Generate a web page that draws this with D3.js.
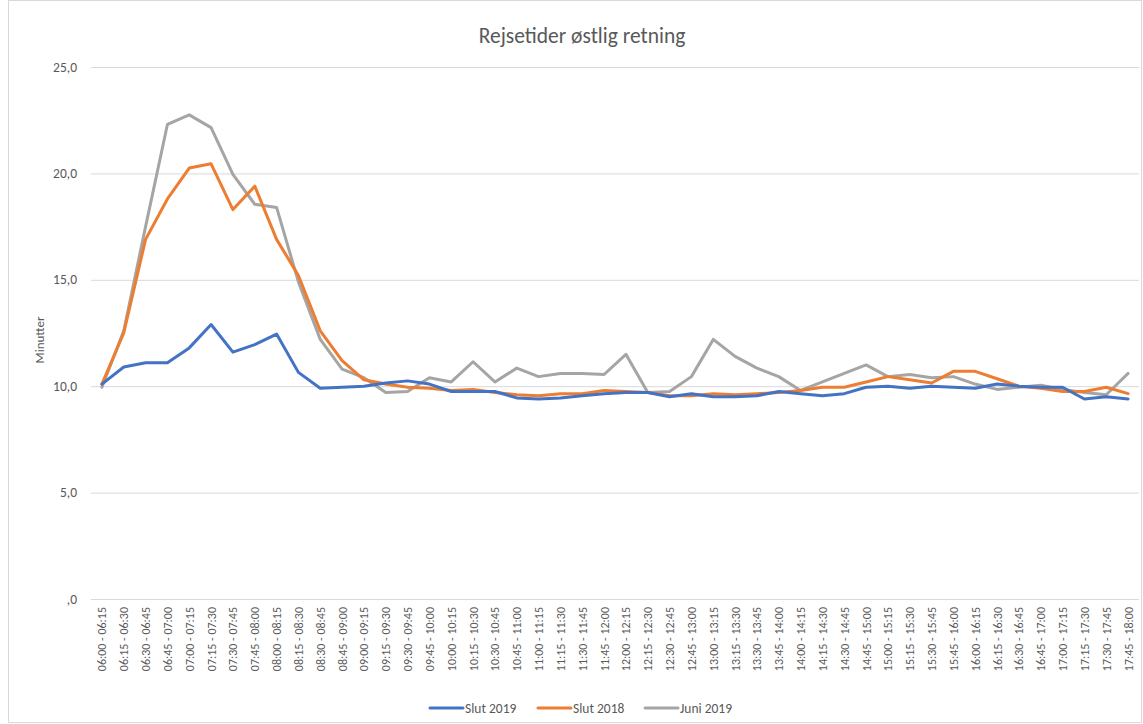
<!DOCTYPE html>
<html>
<head>
<meta charset="utf-8">
<script src="https://cdn.jsdelivr.net/npm/d3@7"></script>
<style>
  body { margin: 0; background: #fff; }
  text { font-family: Calibri, Carlito, Lato, sans-serif; fill: #595959; }
</style>
</head>
<body>
<svg id="chart" width="1143" height="724"></svg>
<script>
const categories = ["06:00 - 06:15","06:15 - 06:30","06:30 - 06:45","06:45 - 07:00","07:00 - 07:15","07:15 - 07:30",
  "07:30 - 07:45","07:45 - 08:00","08:00 - 08:15","08:15 - 08:30","08:30 - 08:45","08:45 - 09:00",
  "09:00 - 09:15","09:15 - 09:30","09:30 - 09:45","09:45 - 10:00","10:00 - 10:15","10:15 - 10:30",
  "10:30 - 10:45","10:45 - 11:00","11:00 - 11:15","11:15 - 11:30","11:30 - 11:45","11:45 - 12:00",
  "12:00 - 12:15","12:15 - 12:30","12:30 - 12:45","12:45 - 13:00","13:00 - 13:15","13:15 - 13:30",
  "13:30 - 13:45","13:45 - 14:00","14:00 - 14:15","14:15 - 14:30","14:30 - 14:45","14:45 - 15:00",
  "15:00 - 15:15","15:15 - 15:30","15:30 - 15:45","15:45 - 16:00","16:00 - 16:15","16:15 - 16:30",
  "16:30 - 16:45","16:45 - 17:00","17:00 - 17:15","17:15 - 17:30","17:30 - 17:45","17:45 - 18:00"];

const slut2019 = [10.1, 10.9, 11.1, 11.1, 11.8, 12.9, 11.6, 11.95, 12.45, 10.65, 9.9, 9.95,
  10.0, 10.15, 10.25, 10.1, 9.75, 9.75, 9.75, 9.45, 9.4, 9.45, 9.55, 9.65,
  9.7, 9.7, 9.5, 9.65, 9.5, 9.5, 9.55, 9.75, 9.65, 9.55, 9.65, 9.95,
  10.0, 9.9, 10.0, 9.95, 9.9, 10.1, 10.0, 9.95, 9.95, 9.4, 9.5, 9.4];

const slut2018 = [10.1, 12.5, 16.9, 18.8, 20.25, 20.45, 18.3, 19.4, 16.9, 15.2, 12.6, 11.2,
  10.3, 10.1, 9.95, 9.9, 9.8, 9.85, 9.7, 9.6, 9.55, 9.65, 9.65, 9.8,
  9.75, 9.7, 9.55, 9.55, 9.65, 9.6, 9.65, 9.7, 9.8, 9.95, 9.95, 10.2,
  10.45, 10.3, 10.15, 10.7, 10.7, 10.35, 10.0, 9.9, 9.75, 9.75, 9.95, 9.65];

const juni2019 = [9.95, 12.6, 17.5, 22.3, 22.75, 22.15, 19.95, 18.55, 18.4, 14.9, 12.2, 10.8,
  10.4, 9.7, 9.75, 10.4, 10.2, 11.15, 10.2, 10.85, 10.45, 10.6, 10.6, 10.55,
  11.5, 9.7, 9.75, 10.45, 12.2, 11.4, 10.85, 10.45, 9.8, 10.2, 10.6, 11.0,
  10.45, 10.55, 10.4, 10.45, 10.1, 9.85, 9.95, 10.05, 9.85, 9.7, 9.6, 10.6];

const seriesNames = ["Slut 2019", "Slut 2018", "Juni 2019"];
const yTicks = [0, 5, 10, 15, 20, 25];

const svg = d3.select("#chart");
const colors = ["#4472C4", "#ED7D31", "#A5A5A5"];

// chart border
svg.append("rect")
  .attr("x", 8.5).attr("y", 0.5)
  .attr("width", 1133).attr("height", 722)
  .attr("fill", "none")
  .attr("stroke", "#d9d9d9");

const plotLeft = 91, plotRight = 1139, plotTop = 67, plotBottom = 599;

const x = d3.scaleBand()
  .domain(categories)
  .range([plotLeft, plotRight]);

const y = d3.scaleLinear()
  .domain([0, 25])
  .range([plotBottom, plotTop]);

// gridlines
svg.append("g")
  .selectAll("line")
  .data(yTicks)
  .enter()
  .append("line")
  .attr("x1", plotLeft).attr("x2", plotRight)
  .attr("y1", d => y(d) + 0.5).attr("y2", d => y(d) + 0.5)
  .attr("stroke", "#d9d9d9")
  .attr("stroke-width", 1);

// y tick labels, excel style with comma decimals
const fmt = d => (d === 0 ? "" : String(d)) + ",0";
svg.append("g")
  .selectAll("text")
  .data(yTicks)
  .enter()
  .append("text")
  .attr("x", 77)
  .attr("y", d => y(d) + 4.5)
  .attr("text-anchor", "end")
  .attr("font-size", 13.5)
  .text(fmt);

// x tick labels, rotated
svg.append("g")
  .selectAll("text")
  .data(categories)
  .enter()
  .append("text")
  .attr("transform", d => "translate(" + (x(d) + x.bandwidth() / 2 + 4.5) + "," + 607 + ") rotate(-90)")
  .attr("text-anchor", "end")
  .attr("font-size", 12)
  .text(d => d);

// axis title
svg.append("text")
  .attr("transform", "translate(44,340) rotate(-90)")
  .attr("text-anchor", "middle")
  .attr("font-size", 13)
  .text("Minutter");

// chart title
svg.append("text")
  .attr("x", 582)
  .attr("y", 43)
  .attr("text-anchor", "middle")
  .attr("font-size", 21.5)
  .text("Rejsetider østlig retning");

const line = d3.line()
  .x((d, i) => x(categories[i]) + x.bandwidth() / 2)
  .y(d => y(d));

const allSeries = [slut2019, slut2018, juni2019];

// draw gray first so blue/orange sit on top like the original
[2, 1, 0].forEach(k => {
  svg.append("path")
    .datum(allSeries[k])
    .attr("d", line)
    .attr("fill", "none")
    .attr("stroke", colors[k])
    .attr("stroke-width", 3)
    .attr("stroke-linejoin", "round")
    .attr("stroke-linecap", "round");
});

// legend
const legendX = [430, 538, 645];
const legend = svg.append("g")
  .selectAll("g")
  .data(seriesNames)
  .enter()
  .append("g")
  .attr("transform", (d, i) => "translate(" + legendX[i] + ",708)");

legend.append("line")
  .attr("x1", 0).attr("x2", 33)
  .attr("stroke", (d, i) => colors[i])
  .attr("stroke-width", 3)
  .attr("stroke-linecap", "round");

legend.append("text")
  .attr("x", 35)
  .attr("y", 4.5)
  .attr("font-size", 13.5)
  .text(d => d);
</script>
</body>
</html>
